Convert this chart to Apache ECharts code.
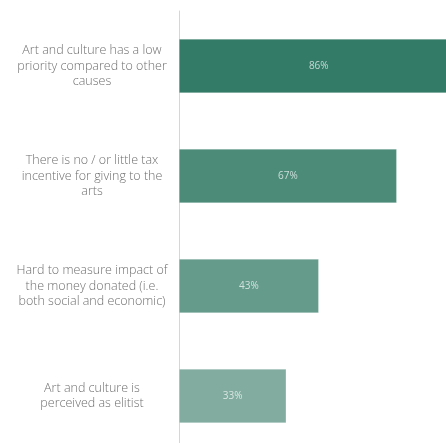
<!DOCTYPE html>
<html>
<head>
<meta charset="utf-8">
<script src="https://cdn.jsdelivr.net/npm/echarts@6/dist/echarts.min.js"></script>
<style>html,body{margin:0;padding:0;background:#fff;}#c{width:446px;height:443px;}</style>
</head>
<body>
<div id="c"></div>
<script>
var categories = [
  "Art and culture has a low\npriority compared to other\ncauses",
  "There is no / or little tax\nincentive for giving to the\narts",
  "Hard to measure impact of\nthe money donated (i.e.\nboth social and economic)",
  "Art and culture is\nperceived as elitist"
];
var values = [86, 67, 43, 33];
var barColors = ["#347b67", "#4b8b78", "#659b8b", "#81ac9f"];

var chart = echarts.init(document.getElementById('c'), null, {renderer: 'canvas'});
chart.setOption({
  animation: false,
  grid: {left: 179, top: 11, width: 325, height: 440, containLabel: false, outerBoundsMode: 'none'},
  xAxis: {
    type: 'value', min: 0, max: 100, show: false
  },
  yAxis: {
    type: 'category', inverse: true, data: categories,
    axisLine: {show: true, lineStyle: {color: '#d6d6d6', width: 1}},
    axisTick: {show: false},
    axisLabel: {
      align: 'center', margin: 87,
      fontFamily: 'Open Sans', fontWeight: 300, fontSize: 12.5, lineHeight: 15.5,
      color: '#707070'
    }
  },
  series: [{
    type: 'bar', barWidth: 54,
    data: values.map(function (v, i) {
      return {value: v, itemStyle: {color: barColors[i]}};
    }),
    itemStyle: {borderColor: 'rgba(255,255,255,0.35)', borderWidth: 0.6},
    label: {
      show: true, position: 'inside', formatter: '{c}%',
      color: 'rgba(255,255,255,0.7)', fontFamily: 'Open Sans', fontSize: 10
    }
  }]
});
</script>
</body>
</html>
